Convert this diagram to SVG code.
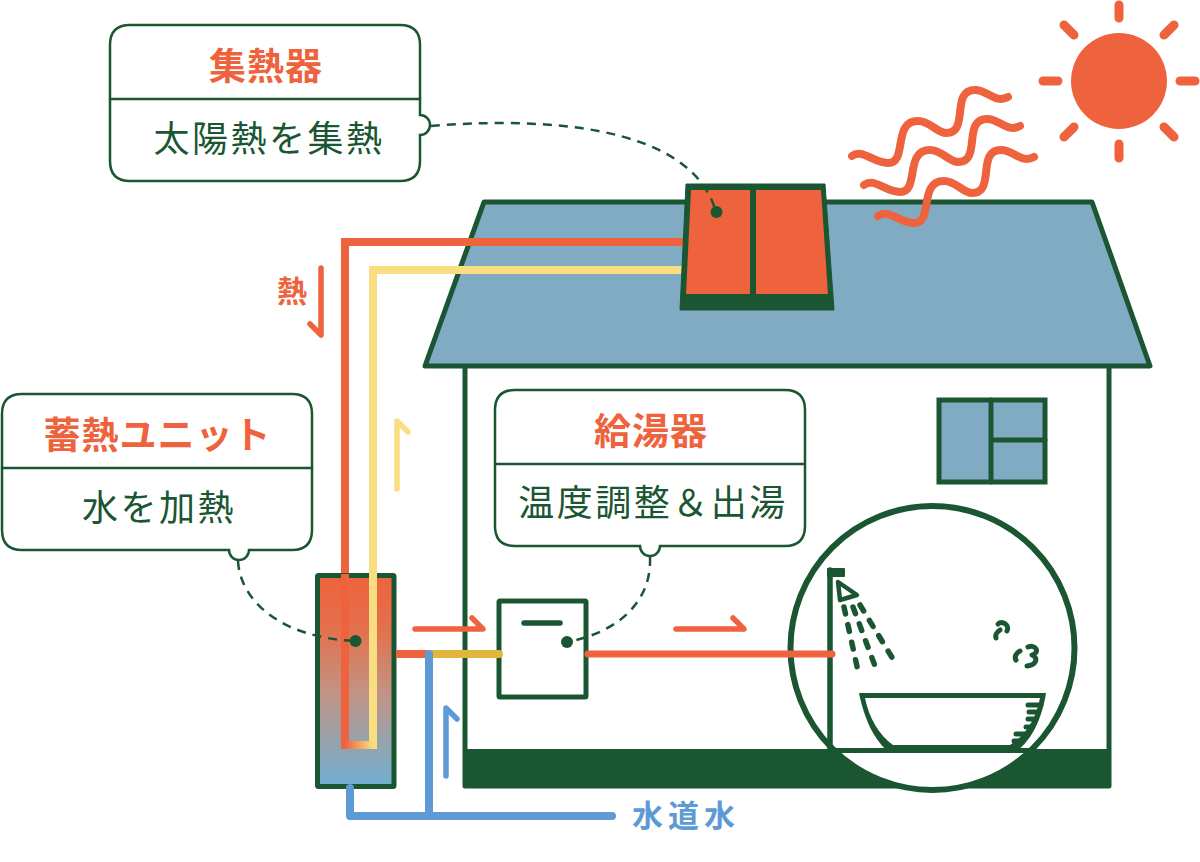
<svg xmlns="http://www.w3.org/2000/svg" width="1200" height="862" viewBox="0 0 1200 862">
<style>
.ink{fill:none;stroke:#1a5632;stroke-linejoin:round;stroke-linecap:round}
.dot{fill:#1a5632}
.dash{fill:none;stroke:#1a5632;stroke-width:2.500;stroke-dasharray:9 7}
.box{fill:#fff;stroke:#1a5632;stroke-width:2.500}
.red{fill:none;stroke:#ee633d;stroke-linecap:round;stroke-linejoin:round}
.blue{fill:none;stroke:#5e9ad6;stroke-linecap:round;stroke-linejoin:round}
.wave{fill:none;stroke:#ee633d;stroke-width:8;stroke-linecap:round}
.head{font-family:"Noto Sans CJK JP","Noto Sans",sans-serif;font-weight:700;font-size:37px;fill:#ee633d;text-anchor:middle;letter-spacing:1px}
.body{font-family:"Noto Sans CJK JP","Noto Sans",sans-serif;font-weight:400;font-size:36px;fill:#1a5632;text-anchor:middle;letter-spacing:2.500px}
</style>
<defs>
<linearGradient id="tank" x1="0" y1="0" x2="0" y2="1">
<stop offset="0" stop-color="#ee633d"/><stop offset="0.25" stop-color="#e4704c"/><stop offset="0.55" stop-color="#c29383"/><stop offset="1" stop-color="#6fb0d2"/>
</linearGradient>
<linearGradient id="bend" gradientUnits="userSpaceOnUse" x1="345" y1="0" x2="373" y2="0">
<stop offset="0" stop-color="#ee633d"/><stop offset="1" stop-color="#f8de80"/>
</linearGradient>
<path id="ripple" d="M852 156C862 148 873 163 888 163C908 163 892 121 918 121C930 121 937 133 946 133C970 133 950 90 975 90C988 90 995 104 1008 97"/>
</defs>
<rect width="1200" height="862" fill="#fff"/>

<g id="sun">
<circle cx="1119" cy="81" r="48" fill="#ee633d"/>
<path class="red" stroke-width="9" d="M1119 5V18M1119 144V158M1043 81H1058M1180 81H1195M1064 25L1074 35M1174 25L1164 35M1064 137L1074 127M1174 137L1164 127"/>
</g>

<g id="house">
<path class="ink" stroke-width="5" fill="#fff" d="M465 366V786H1109V366"/>
<rect x="463" y="749" width="648" height="39" rx="2" fill="#1a5632"/>
<path d="M484 202H1092L1150 366H425Z" fill="#81abc3" stroke="#1a5632" stroke-width="5" stroke-linejoin="round"/>
<g id="window">
<rect x="939" y="400" width="106" height="82" fill="#81abc3" stroke="#1a5632" stroke-width="5"/>
<path class="ink" stroke-width="5" d="M991 400V482M991 440H1045"/>
</g>
</g>

<g id="heat-waves">
<use href="#ripple" class="wave"/>
<use href="#ripple" class="wave" transform="translate(12 29)"/>
<use href="#ripple" class="wave" transform="translate(26 60)"/>
</g>

<g id="connectors">
<path fill="none" stroke="#ee633d" stroke-width="8" d="M345 749V242H685"/>
<path fill="none" stroke="#f8de80" stroke-width="8" d="M373 749V270H685"/>
</g>

<g id="collector">
<path d="M686 184H825L834 310H680Z" fill="#1a5632" stroke="#1a5632" stroke-width="1" stroke-linejoin="round"/>
<path d="M691 190H750V294H686Z" fill="#ee633d"/>
<path d="M756 190H821L828 294H756Z" fill="#ee633d"/>
</g>

<g id="storage-unit">
<rect x="317.500" y="575.500" width="76.500" height="211" rx="1" fill="url(#tank)" stroke="#1a5632" stroke-width="5"/>
<path fill="none" stroke="#ee633d" stroke-width="8" d="M345 574V745"/>
<path fill="none" stroke="#f8de80" stroke-width="8" d="M373 558V745"/>
<path fill="none" stroke="url(#bend)" stroke-width="8" d="M341 745H377"/>
</g>

<g id="water-heater">
<rect x="499" y="601" width="87" height="96" rx="1" fill="#fff" stroke="#1a5632" stroke-width="5"/>
<path class="ink" stroke-width="5.500" d="M524 623H560"/>
</g>

<g id="pipes">
<path fill="none" stroke="#ee633d" stroke-width="8" d="M396 654H430"/>
<path fill="none" stroke="#e2b63c" stroke-width="8" stroke-linecap="round" d="M430 654H499"/>
<path class="blue" stroke-width="8" d="M429 654V816M350 788V816H612"/>
<path class="red" stroke-width="5.500" d="M415 629H483L472 618"/>
<path class="red" stroke-width="5.500" d="M676 629H744L733 618"/>
<path class="red" stroke-width="5.500" d="M321 335V268M321 335L310 324"/>
<path fill="none" stroke="#f8de80" stroke-width="5.500" stroke-linecap="round" stroke-linejoin="round" d="M397 489V421L408 432"/>
<path class="blue" stroke-width="5.500" d="M446 776V708L457 719"/>
</g>

<g id="bath-view">
<circle cx="932.500" cy="648" r="142" fill="#fff" stroke="#1a5632" stroke-width="6"/>
<path class="ink" stroke-width="5" d="M834 750.500H1031"/>
<path class="ink" stroke-width="5.500" d="M830 749V570"/>
<rect x="827" y="568" width="18" height="9" rx="1" class="dot"/>
<path class="ink" stroke-width="4.500" d="M838 582L857 595L840 600Z"/>
<path class="red" stroke-width="7" d="M588 654H832"/>
<path d="M859 693H1046C1042 718 1032 741 1014 753H890C874 741 864 718 859 693Z" fill="#1a5632"/>
<path d="M865 698H1040C1036 718 1027 734 1010 745H893C879 735 869 718 865 698Z" fill="#fff"/>
<path class="ink" stroke-width="5" d="M1028 705H1041M1029 712H1038M1028 719H1036M1026 727H1032M1016 734H1028M1014 741H1023"/>
<g class="ink" stroke-width="5.500" stroke-dasharray="7 11">
<path d="M844 607L858 671"/>
<path d="M853 607L875 666"/>
<path d="M860 605L893 659"/>
</g>
<path class="ink" stroke-width="5" d="M998 624C1002 620 1010 625 1007 631M1000 630C997 632 995 635 996 638"/>
<path class="ink" stroke-width="5" d="M1020 651C1016 653 1014 657 1016 660M1028 647C1035 644 1041 652 1032 655C1039 658 1036 665 1027 666"/>
</g>

<g id="collector-note">
<path class="box" d="M130 25H400Q420 25 420 45V115A10 10 0 0 1 420 135V161Q420 181 400 181H130Q110 181 110 161V45Q110 25 130 25Z"/>
<path class="ink" stroke-width="2.500" d="M110 99H420"/>
<text class="head" x="266" y="80">集熱器</text>
<text class="body" x="269" y="152">太陽熱を集熱</text>
<path class="dash" d="M431 126C530 118 690 120 716 212"/>
<circle class="dot" cx="716.500" cy="212" r="6"/>
</g>

<g id="storage-note">
<path class="box" d="M22 394H292Q312 394 312 414V530Q312 550 292 550H249A10 10 0 0 1 229 550H22Q2 550 2 530V414Q2 394 22 394Z"/>
<path class="ink" stroke-width="2.500" d="M2 468H312"/>
<text class="head" x="157.500" y="449">蓄熱ユニット</text>
<text class="body" x="159" y="521">水を加熱</text>
<path class="dash" d="M238 561C240 600 280 638 356 641"/>
<circle class="dot" cx="355.500" cy="641" r="6"/>
</g>

<g id="heater-note">
<path class="box" d="M515 390H785Q805 390 805 410V526Q805 546 785 546H660A10 10 0 0 1 640 546H515Q495 546 495 526V410Q495 390 515 390Z"/>
<path class="ink" stroke-width="2.500" d="M495 464H805"/>
<text class="head" x="651" y="445">給湯器</text>
<text class="body" x="653" y="516">温度調整＆出湯</text>
<path class="dash" d="M650 557C652 600 620 632 567 642"/>
<circle class="dot" cx="567" cy="642" r="6"/>
</g>

<text class="head" x="292" y="302" style="font-size:30px;letter-spacing:0">熱</text>
<text class="head" x="686" y="827" style="font-size:31px;fill:#5e9ad6;letter-spacing:5px">水道水</text>
</svg>
